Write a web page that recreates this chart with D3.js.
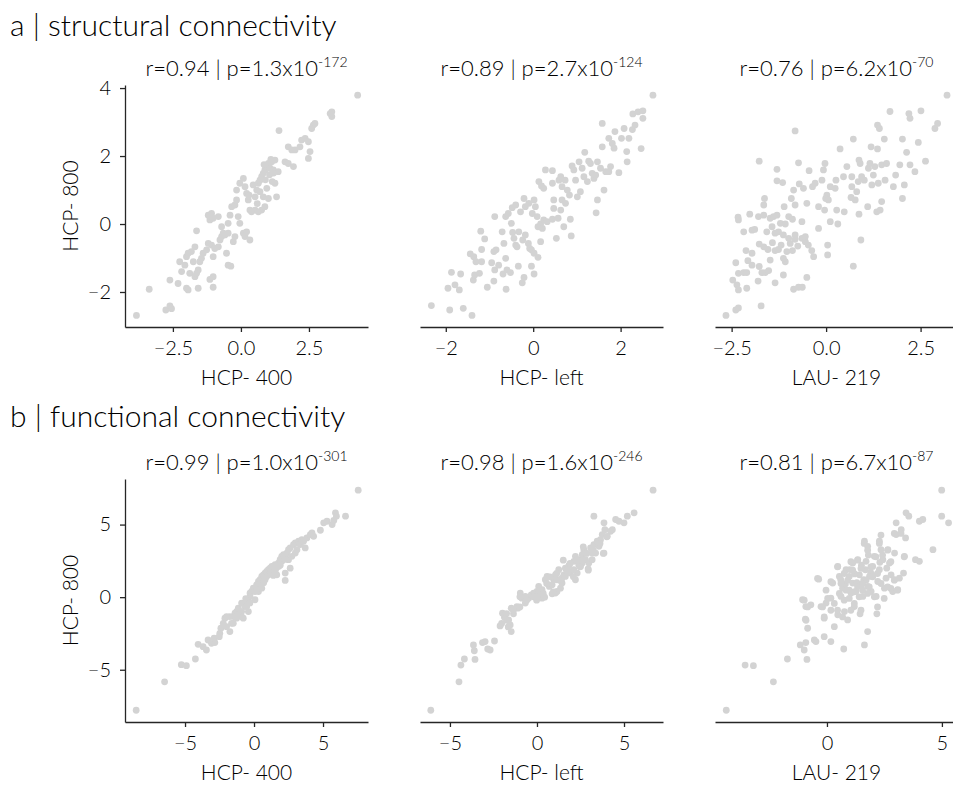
<!DOCTYPE html>
<html>
<head>
<meta charset="utf-8">
<script src="https://cdn.jsdelivr.net/npm/d3@7"></script>
<style>
  body { margin: 0; background: #fff; }
  text { font-family: Lato, "Open Sans", sans-serif; font-weight: 300; fill: #000; }
</style>
</head>
<body>
<svg id="fig" width="953" height="785"></svg>
<script>
// ---- valores ----
const sectionLabels = ['a | structural connectivity', 'b | functional connectivity']
const xLabels = ['HCP- 400', 'HCP- left', 'LAU- 219']
const yLabel = 'HCP- 800'
const rValues = ['0.94', '0.89', '0.76', '0.99', '0.98', '0.81']
const pMantissa = ['1.3', '2.7', '6.2', '1.0', '1.6', '6.7']
const pExponent = ['-172', '-124', '-70', '-301', '-246', '-87']

// limites de los ejes (x por panel, y por fila)
const xDomains = [[-4.26, 4.67], [-2.59, 2.97], [-2.94, 3.49], [-9.35, 8.26], [-6.72, 7.24], [-4.87, 5.70]]
const yDomains = [[-3.03, 4.09], [-8.6, 8.14]]
const xTicks = [[-2.5, 0, 2.5], [-2, 0, 2], [-2.5, 0, 2.5], [-5, 0, 5], [-5, 0, 5], [0, 5]]
const xTickFormats = ['.1f', 'd', '.1f', 'd', 'd', 'd']
const yTicks = [[-2, 0, 2, 4], [-5, 0, 5]]

// nube de puntos de cada panel [x, y]
const scA1 = [[-3.84,-2.69],[-3.37,-1.92],[-2.76,-2.53],[-2.61,-2.41],[-2.55,-2.49],[-2.61,-1.65],[-2.31,-1.75],[-2.00,-1.89],[-1.94,-1.94],[-1.57,-1.89],[-1.02,-1.86],[-1.02,-1.55],[-1.14,-1.63],
  [-2.25,-1.11],[-2.18,-1.40],[-2.06,-1.21],[-2.00,-0.96],[-1.94,-0.86],[-1.82,-0.81],[-1.69,-0.67],[-1.75,-1.11],[-1.88,-1.45],[-1.69,-1.55],[-1.57,-1.35],[-1.63,-1.45],[-1.51,-1.11],[-1.45,-1.01],[-1.39,-0.86],[-1.26,-0.76],[-1.20,-0.57],[-1.08,-0.62],[-1.02,-0.96],[-0.96,-0.72],[-0.83,-0.67],[-0.77,-0.47],[-0.71,-0.37],[-0.59,-0.32],[-0.47,-0.27],[-0.53,-0.86],[-0.47,-1.21],[-0.37,-1.24],[-0.28,-0.52],[-0.22,-0.37],
  [-1.63,-0.20],[-1.20,0.26],[-1.14,0.12],[-1.08,0.31],[-1.02,0.17],[-0.83,0.22],
  [-0.71,-0.08],[-0.65,-0.27],[-0.47,0.02],[-0.40,0.26],[-0.34,0.51],[-0.22,0.56],[-0.16,0.71],[-0.10,0.22],[-0.04,0.02],[0.09,-0.27],[0.15,-0.37],[0.21,-0.23],[0.33,-0.47],
  [-0.16,1.00],[-0.04,1.20],[0.09,1.34],[0.15,1.10],[0.21,0.90],[0.27,0.71],[0.33,0.41],[0.39,0.36],[0.52,0.80],[0.58,1.00],[0.64,1.20],[0.70,1.29],[0.76,1.39],[0.82,1.49],[0.88,1.59],[0.94,1.69],[1.01,1.78],[1.07,1.64],[1.13,1.83],[1.19,1.59],[1.25,1.88],[0.82,0.80],[1.01,0.75],[0.76,0.41],[0.88,0.51],[0.52,0.41],[0.64,0.36],[1.25,1.20],[1.31,0.80],[1.37,1.54],
  [0.45,1.15],[0.90,1.30],[1.05,1.45],[1.15,1.25],[0.70,0.95],[0.95,1.05],[1.20,1.50],[0.60,0.60],[0.30,0.85],[1.10,1.90],[0.85,1.75],
  [1.40,2.75],[1.62,1.83],[1.74,1.78],[1.93,1.69],[1.74,2.27],[1.87,2.18],[1.99,2.18],[2.17,2.27],[2.23,2.47],[2.36,2.52],[2.48,2.42],[2.54,2.13],[2.48,1.93],[2.60,2.81],[2.66,2.91],[2.72,2.96],[3.28,3.25],[3.34,3.30],[3.34,3.16],[4.29,3.79]]

const scA2 = [[-2.33,-2.40],[-1.91,-2.53],[-1.60,-2.48],[-1.40,-2.69],
  [-1.95,-1.89],[-1.79,-1.79],[-1.69,-1.94],[-1.87,-1.42],[-1.66,-1.47],
  [-1.37,-1.65],[-1.34,-1.50],[-1.23,-1.45],[-1.05,-1.86],[-0.90,-1.68],[-0.62,-1.92],[-0.25,-1.73],[-0.21,-1.57],[-0.04,-1.24],[0.02,-1.47],
  [-1.44,-0.88],[-1.36,-0.96],[-1.31,-1.11],[-1.18,-1.11],[-1.18,-0.75],[-1.20,-0.21],[-1.11,-0.44],[-0.90,-0.81],[-0.85,-0.76],[-0.95,-1.14],[-0.88,-1.35],[-0.79,-1.21],[-0.69,-1.47],[-0.63,-1.01],[-0.60,-1.35],[-0.52,-1.43],[-0.34,-1.24],
  [-0.88,0.22],[-0.71,-0.23],[-0.67,-0.57],[-0.63,0.22],[-0.57,0.31],[-0.50,0.02],[-0.47,-0.25],[-0.44,-0.42],[-0.40,-0.62],[-0.37,-0.67],[-0.33,-0.23],[-0.24,-0.47],[-0.21,0.75],[-0.29,0.36],[-0.18,-0.32],[-0.11,-0.57],[-0.08,-0.72],[-0.04,-0.76],[0.02,-0.86],[0.11,-0.98],[0.17,-0.52],
  [-0.48,0.48],[-0.40,0.56],[-0.18,0.51],[-0.10,0.61],[-0.02,0.31],[0.02,0.71],[0.05,0.51],[0.09,0.22],[0.11,-0.08],[0.17,0.00],[0.21,-0.13],[0.24,0.12],[0.32,0.07],[0.44,0.14],[0.47,0.46],[0.53,-0.42],[0.57,0.17],[0.63,0.41],[0.66,0.71],[0.70,-0.08],[0.74,0.61],[0.83,0.85],[0.87,-0.35],[0.85,0.14],
  [0.13,1.25],[0.19,1.12],[0.24,1.05],[0.28,1.59],[0.44,1.57],[0.44,1.20],[0.47,0.71],[0.59,1.29],[0.63,1.39],[0.66,1.10],[0.73,1.29],[0.78,1.00],[0.89,1.71],[0.93,1.59],[0.97,1.29],[1.01,0.80],[1.05,1.83],[1.08,0.95],[1.12,1.64],[1.16,1.39],[1.18,2.11],[1.24,1.25],[1.27,1.85],[1.31,1.78],[1.35,1.49],[1.39,1.34],[1.44,0.33],[1.47,0.71],[1.43,1.44],[1.47,1.83],[1.54,1.64],[1.62,1.00],[1.66,1.54],[1.73,1.54],[1.77,1.69],[1.96,1.51],
  [1.58,2.27],[1.58,2.96],[1.73,2.52],[1.81,2.37],[1.85,2.23],[1.87,2.72],[2.02,2.52],[2.08,2.81],[2.14,2.13],[2.15,1.83],[2.19,2.52],[2.27,2.78],[2.33,2.91],[2.28,3.24],[2.40,3.30],[2.51,3.33],[2.51,3.11],[2.47,2.22],[2.74,3.79]]

const scA3 = [[-2.65,-2.69],[-2.39,-2.53],[-2.32,-2.47],[-1.72,-2.41],
  [-2.47,-1.65],[-2.36,-1.79],[-2.32,-1.94],[-2.10,-1.89],[-1.80,-1.68],[-1.35,-1.73],[-1.13,-1.50],[-0.86,-1.92],[-0.73,-1.86],[-0.63,-1.86],[-0.51,-1.57],
  [-2.39,-1.14],[-2.32,-1.45],[-2.18,-1.43],[-2.10,-1.43],[-2.07,-1.08],[-1.96,-1.21],[-1.96,-0.86],[-2.12,-0.78],[-1.77,-1.25],[-1.70,-1.43],[-1.61,-1.43],[-1.52,-1.37],[-1.48,-1.06],[-1.54,-0.75],[-1.42,-0.55],[-1.77,-0.59],[-1.65,-0.67],[-1.35,-0.78],[-1.26,-0.75],[-1.19,-0.62],[-1.08,-1.11],[-1.13,-1.01],[-1.04,-0.81],[-0.95,-0.57],[-0.89,-0.78],[-0.82,-0.45],[-0.75,-0.65],[-0.64,-0.42],[-0.55,-0.52],[-0.47,-0.62],[-0.38,-0.78],[-0.33,-0.96],[-0.20,-0.13],[0.04,-0.62],[0.04,-0.91],[0.72,-1.24],[0.92,-0.47],
  [-2.32,0.12],[-2.33,0.20],[-2.18,-0.23],[-2.02,0.29],[-1.96,-0.18],[-1.89,-0.16],[-1.79,0.22],[-1.65,0.26],[-1.57,-0.23],[-1.48,0.17],[-1.39,0.22],[-1.30,0.26],[-1.43,-0.08],[-1.35,-0.27],[-1.26,-0.23],[-1.21,0.02],[-1.13,-0.32],[-1.08,0.00],[-0.99,0.22],[-0.89,0.14],[-0.99,-0.42],[-0.82,-0.32],[-0.64,0.07],[-0.55,-0.37],
  [-1.63,0.75],[-1.65,0.56],[-1.77,1.85],[-1.30,1.61],[-1.30,1.27],[-1.15,1.22],[-1.11,0.51],[-0.92,0.75],[-0.86,1.00],[-0.82,0.56],[-0.73,1.80],[-0.71,1.18],[-0.60,1.05],[-0.51,0.61],[-0.45,1.57],[-0.36,1.10],[-0.29,1.20],[-0.20,0.51],[-0.11,1.29],[-0.07,1.59],[-0.03,1.78],[0.02,0.85],[-0.01,0.75],[0.06,0.71],[0.11,1.10],[-0.04,0.41],[0.11,0.07],[0.28,0.41],[0.31,0.00],[0.24,1.05],[0.26,1.29],[0.37,2.21],[0.48,0.36],[0.55,1.69],[0.46,1.39],[0.68,1.39],[0.68,1.10],[0.72,2.50],[0.66,0.78],[0.77,0.71],[0.81,0.95],[0.85,1.25],[0.87,1.88],[0.87,0.29],[0.90,1.78],[0.94,1.39],[1.01,1.29],[1.10,0.51],[1.12,1.64],[1.16,1.78],[1.19,2.27],[1.21,1.15],[1.25,1.44],[1.29,1.69],[1.34,0.36],[1.36,2.21],[1.38,1.20],[1.43,0.41],[1.47,0.66],[1.47,1.74],[1.56,1.29],[1.54,2.50],[1.60,1.78],[1.78,1.10],[1.84,1.44],[1.95,1.74],[2.02,0.75],[2.07,1.15],[2.02,2.50],[2.13,2.11],[2.22,1.74],[2.35,1.54],[2.44,2.40],[2.63,1.85],
  [-0.82,2.74],[1.36,2.91],[1.41,2.81],[1.69,3.31],[2.19,3.25],[2.22,3.11],[2.51,3.33],[2.88,2.81],[2.95,2.96],[3.20,3.79]]

const scB1 = [[-8.54,-7.79],[-6.48,-5.83],[-5.27,-4.65],[-4.90,-4.72],[-4.25,-4.26],[-4.05,-3.25],[-3.69,-3.41],[-3.45,-3.64],[-3.33,-2.95],[-3.08,-3.18],[-2.84,-3.13],[-2.89,-2.83],[-2.52,-2.72],[-2.40,-2.14],[-2.11,-1.45],[-1.99,-2.03],[-1.75,-2.37],[-1.63,-1.80],[-1.50,-1.34],[-1.38,-1.11],[-1.26,-0.99],[-1.14,-0.76],[-1.02,-1.22],[-0.90,-0.99],[-0.78,-0.41],[-0.66,-0.65],[-0.53,-0.18],[-0.41,-0.30],[-0.29,0.28],[-0.17,0.39],[-0.05,0.62],[0.07,0.51],[0.19,0.85],[0.32,1.08],[0.44,1.20],[0.56,1.43],[0.68,1.54],[0.80,1.66],[0.92,1.77],[1.04,1.89],[1.17,2.00],[1.29,2.12],[1.41,1.89],[1.53,2.24],[1.65,1.54],[1.77,2.35],[1.89,2.58],[2.01,2.81],[2.14,2.93],[2.26,2.70],[2.26,1.15],[2.38,3.04],[2.50,3.27],[2.62,3.39],[2.74,2.81],[2.86,3.62],[2.99,3.73],[3.11,3.27],[3.23,3.85],[3.35,3.62],[3.47,3.96],[3.59,3.85],[3.71,3.39],[3.83,4.08],[4.08,4.31],[4.20,4.42],[4.32,4.19],[4.81,4.61],[5.05,5.12],[5.29,5.23],[5.66,5.00],[5.78,5.28],[5.90,5.81],[5.97,5.58],[6.63,5.58],[7.55,7.37],
  [-0.90,-0.41],[-0.53,-0.65],[-0.29,0.05],[0.07,0.39],[0.32,0.74],[0.56,1.08],[0.80,1.20],[1.04,1.54],[1.29,1.89],[1.53,1.77],[1.77,2.12],[2.01,2.47],[2.26,1.66],[2.50,2.58],[2.62,2.00],[2.99,3.04],[-0.90,-1.34],[-0.78,-1.45],[-0.41,-0.99],[0.07,-0.18],[0.32,0.39],[0.56,0.62],[-1.26,-1.45],[-1.50,-1.80],[-1.75,-1.34],[-1.99,-1.34],[-2.23,-1.80],[-2.48,-2.49],
  [-0.60,-0.10],[0.20,0.60],[0.45,0.90],[0.90,1.40],[1.20,1.70],[1.60,2.00],[1.90,2.20],[2.30,2.60],[-1.20,-1.20],[-0.30,-0.40],[0.70,1.00],[1.40,1.50]]

const scB2 = [[-6.10,-7.79],[-4.48,-5.83],[-4.37,-4.68],[-4.17,-4.26],[-3.56,-4.29],[-3.65,-3.29],[-3.60,-3.69],[-3.13,-3.13],[-2.98,-3.06],[-2.83,-3.57],[-2.69,-3.64],[-2.44,-3.02],[-2.12,-1.98],[-1.98,-1.11],[-1.87,-1.38],[-1.63,-1.57],[-1.54,-1.91],[-1.48,-2.37],[-1.48,-0.76],[-1.35,-1.15],[-1.10,-0.76],[-0.96,0.28],[-0.87,-0.07],[-0.67,-0.41],[-0.48,-0.07],[-0.33,0.16],[-0.19,0.28],[0,0.39],[0.10,0.74],[0.29,-0.07],[0.44,0.00],[0.58,1.43],[0.71,0.74],[0.87,0.23],[0.96,1.20],[1.06,1.54],[1.15,1.20],[1.25,1.89],[1.35,0.62],[1.44,0.97],[1.54,1.54],[1.63,2.00],[1.83,2.17],[1.92,1.66],[2.12,2.47],[2.21,2.81],[2.31,1.66],[2.40,2.24],[2.50,2.58],[2.60,2.93],[2.69,3.27],[2.79,3.04],[2.94,1.94],[2.98,2.35],[3.08,3.39],[3.17,2.58],[3.27,3.62],[3.37,3.04],[3.46,3.85],[3.65,3.96],[3.75,4.31],[3.85,3.04],[3.90,4.65],[4.04,4.19],[4.23,4.54],[4.33,4.65],[3.27,5.58],[3.85,5.12],[4.52,5.35],[4.71,5.23],[5.00,5.12],[5.19,5.58],[5.58,5.81],[6.67,7.37],
  [0.48,1.20],[0.87,0.85],[1.15,0.39],[1.44,1.31],[1.83,1.77],[2.12,1.89],[2.50,2.12],[2.79,2.58],[1.06,0.28],[0.10,0.28],[-0.67,0.05],[-1.15,-0.65],[-1.83,-1.22],[2.21,1.20],[2.60,2.35],[3.17,3.04],[3.56,3.50],[1.63,1.43],[0,0.05],[0.29,0.51],
  [-1.74,-1.13],[-1.36,-0.90],[-0.98,-0.67],[-0.59,-0.21],[-0.21,0.02],[0.17,0.48],[0.56,0.94],[0.75,1.40],[1.13,1.63],[1.32,1.17],[1.71,1.86],[1.90,2.32],[2.28,2.55],[2.47,2.09],[2.86,3.01],[3.24,3.24],[3.62,3.70],[4.01,4.16],[3.81,3.01],[2.95,1.86],[2.09,1.40],[0.94,0.37],[0.36,0.26],[-0.02,-0.21],[-0.98,0.02],[-1.74,-1.59],[-2.03,-1.81],[-1.65,-2.05],[1.51,2.55],[2.66,3.47]]

const scB3 = [[-4.38,-7.79],[-3.56,-4.68],[-3.20,-4.72],[-2.33,-5.83],[-1.72,-4.26],[-1.16,-3.29],[-0.99,-3.64],[-0.87,-4.29],[-0.92,-3.13],[-0.55,-2.95],[-0.48,-3.06],[-0.12,-2.72],[0.17,-3.06],[0.73,-3.57],[1.63,-3.29],[1.77,-2.37],[-0.84,-2.14],[-0.94,-1.52],[-1.06,-0.18],[-0.92,-0.65],[-0.70,-0.53],[-0.36,1.24],[-0.26,-0.65],[-0.12,-1.45],[-0.04,-0.41],[0.17,-0.07],[0.25,0.97],[0.32,-2.03],[0.47,2.12],[0.47,-1.22],[0.54,1.43],[0.61,0.05],[0.68,0.62],[0.76,-0.99],[0.83,1.89],[0.90,-1.57],[0.97,1.43],[1.05,0.28],[1.12,2.35],[1.12,0.97],[1.19,-0.65],[1.26,0.39],[1.34,2.58],[1.41,1.54],[1.44,-1.15],[1.48,0.85],[1.56,0.05],[1.63,3.85],[1.67,1.89],[1.70,2.47],[1.77,3.50],[1.77,0.74],[1.85,1.43],[1.92,0.39],[1.99,2.12],[2.06,2.81],[2.14,0.05],[2.17,-1.15],[2.21,1.08],[2.28,3.85],[2.28,1.89],[2.35,3.27],[2.43,2.58],[2.50,0.62],[2.57,1.31],[2.65,3.27],[2.72,2.35],[2.79,1.54],[2.86,0.39],[2.94,3.04],[2.94,1.20],[3.01,5.12],[3.01,4.31],[3.08,0.51],[3.15,1.31],[3.23,4.65],[3.33,1.66],[3.37,2.81],[3.42,4.08],[3.44,5.81],[3.56,5.58],[3.85,2.58],[4.02,2.47],[4.02,5.23],[4.17,5.35],[4.61,3.27],[4.99,7.37],[4.99,5.58],[5.29,5.12],
  [1.20,1.60],[1.50,2.20],[1.90,1.70],[1.00,1.90],[1.60,1.20],[2.30,2.40],[0.80,0.90],[1.30,1.00],[2.00,1.50],[0.60,1.20],[2.60,2.00],[1.80,2.90],
  [0.46,2.09],[1.04,2.44],[1.33,2.55],[1.62,3.70],[1.77,3.24],[2.28,3.70],[2.35,4.28],[2.64,3.24],[2.78,2.44],[0.75,1.63],[0.90,1.17],[1.12,1.86],[1.48,1.98],[1.91,2.09],[2.13,2.78],[2.42,2.90],[0.61,0.94],[0.97,0.48],[1.33,0.71],[1.70,1.17],[1.99,1.40],[2.20,1.63],[1.77,0.26],[1.55,0.48],[0.54,0.26],[0.75,-0.21],[0.03,-0.09],[0.17,-0.90],[0.46,-0.90],[0.68,-1.36],[-0.12,-1.36],[1.19,-0.43],[1.04,-0.90],[1.48,-0.90],[2.06,0.02],[2.49,-0.09],[2.78,0.60],[2.93,1.17],[3.07,0.48],[2.35,0.94],[2.64,0.71],[-0.41,1.29],[0.17,1.06],[-0.04,0.48],[-0.99,-0.21],[-0.84,-0.67],[-0.91,-1.59],[-0.19,-0.67],[0.32,-0.43],[0.83,0.48],[1.19,0.37],[1.55,0.94],[1.84,0.71],[1.40,0.02],[0.97,-0.09],[2.20,-0.67],[3.36,2.78],[2.93,4.39],[3.22,4.39]]

const scatterData = [scA1, scA2, scA3, scB1, scB2, scB3]

// ---- geometria ----
const colLeft = [125, 420, 715]
const panelW = 243
const rowTop = [85, 479]
const panelH = [242, 243]
const dotColor = '#d3d3d3'
const axisColor = '#262626'

const svg = d3.select('#fig')

// Etiquetas de seccion
svg.selectAll('text.section')
  .data(sectionLabels)
  .enter()
  .append('text')
  .attr('class', 'section')
  .attr('x', 10)
  .attr('y', (d, i) => i == 0 ? 36 : 427)
  .attr('font-size', 30)
  .text(d => d)

const style_axis = (ax) => {
  ax.attr('font-family', null)
  ax.select('.domain').attr('stroke', axisColor).attr('stroke-width', 1.3)
  ax.selectAll('.tick line').attr('stroke', axisColor).attr('stroke-width', 1.3)
  ax.selectAll('.tick text').attr('font-size', 20).attr('fill', null)
}

const create_panel = (k) => {
  const row = Math.floor(k / 3)
  const col = k % 3
  const left = colLeft[col]
  const top = rowTop[row]
  const bottom = top + panelH[row]

  const x = d3.scaleLinear().domain(xDomains[k]).range([left, left + panelW])
  const y = d3.scaleLinear().domain(yDomains[row]).range([bottom, top])

  const g = svg.append('g').attr('class', `panel-${k}`)

  // puntos
  g.selectAll('circle')
    .data(scatterData[k])
    .enter()
    .append('circle')
    .attr('cx', d => x(d[0]))
    .attr('cy', d => y(d[1]))
    .attr('r', 3.4)
    .attr('fill', dotColor)

  // eje x
  const xAxis = g.append('g')
    .attr('transform', `translate(0, ${bottom})`)
    .call(d3.axisBottom(x).tickValues(xTicks[k]).tickFormat(d3.format(xTickFormats[k])).tickSize(5).tickSizeOuter(0).tickPadding(9))
  style_axis(xAxis)

  // eje y solo en la primera columna
  if (col == 0) {
    const yAxis = g.append('g')
      .attr('transform', `translate(${left}, 0)`)
      .call(d3.axisLeft(y).tickValues(yTicks[row]).tickFormat(d3.format('d')).tickSize(5).tickSizeOuter(0).tickPadding(9))
    style_axis(yAxis)

    g.append('text')
      .attr('transform', `translate(${left - 47}, ${(top + bottom) / 2}) rotate(-90)`)
      .attr('text-anchor', 'middle')
      .attr('font-size', 21)
      .text(yLabel)
  }

  // etiqueta eje x
  g.append('text')
    .attr('x', left + panelW / 2)
    .attr('y', bottom + 58)
    .attr('text-anchor', 'middle')
    .attr('font-size', 21)
    .text(xLabels[col])

  // titulo con r y p
  const title = g.append('text')
    .attr('x', left + panelW / 2)
    .attr('y', top - 9)
    .attr('text-anchor', 'middle')
    .attr('font-size', 22)
  title.append('tspan').text(`r=${rValues[k]} | p=${pMantissa[k]}x10`)
  title.append('tspan').attr('font-size', 14).attr('dy', -9).text(pExponent[k])
}

d3.range(6).forEach(create_panel)
</script>
</body>
</html>
